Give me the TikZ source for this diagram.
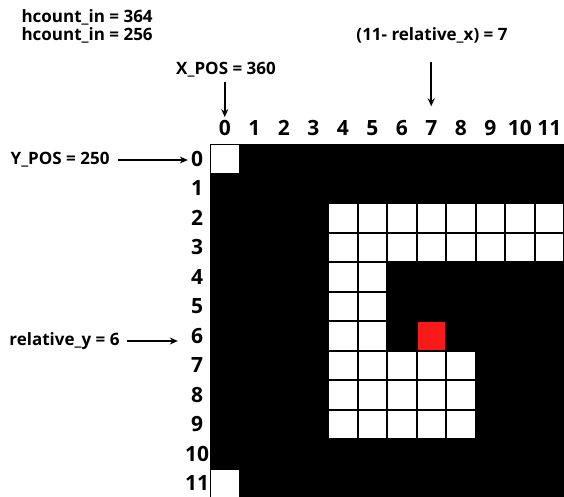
\documentclass[tikz,border=0pt]{standalone}
\usepackage{fontspec}
\setmainfont{Open Sans}
\usetikzlibrary{positioning,arrows.meta}
\definecolor{pixred}{RGB}{250,25,25}

\begin{document}
\begin{tikzpicture}[x=1pt, y=-1pt, font=\bfseries\fontsize{17}{20}\selectfont,
  num/.style={font=\bfseries\fontsize{21}{24}\selectfont, inner sep=0pt},
  pointer/.style={-{Stealth[length=8pt,width=7pt]}, line width=1.6pt}]
  \useasboundingbox (0,0) rectangle (564,497);
  % screen area
  \fill[black] (210,144) rectangle (564,498);
  \foreach \cx/\cy in {0/0,0/11,4/2,5/2,6/2,7/2,8/2,9/2,10/2,11/2,
                       4/3,5/3,6/3,7/3,8/3,9/3,10/3,11/3,4/4,5/4,4/5,5/5,4/6,5/6,
                       4/7,5/7,6/7,7/7,8/7,4/8,5/8,6/8,7/8,8/8,4/9,5/9,6/9,7/9,8/9}
    \fill[white] ({210+\cx*29.5+1},{144+\cy*29.5+1}) rectangle ++(27.5,27.5);
  % current pixel
  \fill[pixred] ({210+7*29.5+1},{144+6*29.5+1}) rectangle ++(27.5,27.5);
  % column and row numbers
  \foreach \i in {0,...,11} {
    \node[num] (c\i) at ({224.75+\i*29.5},128) {\i};
    \node[num] (r\i) at (197,{158.75+\i*29.5}) {\i};
  }
  % labels
  \node[anchor=west] (hcountA) at (18,17) {hcount\_in = 364};
  \node[anchor=west] (hcountB) at (18,35) {hcount\_in = 256};
  \node (xpos) at (226,70) {X\_POS = 360};
  \node (relx) at (432,35) {(11- relative\_x) = 7};
  \node[anchor=east] (ypos) at (113,160) {Y\_POS = 250};
  \node[anchor=east] (rely) at (123,341) {relative\_y = 6};
  % pointers
  \draw[pointer, shorten <=1pt, shorten >=3pt] (c0 |- xpos.south) -- (c0.north);
  \draw[pointer, shorten <=16pt, shorten >=14pt] (c7 |- relx.south) -- (c7.north);
  \draw[pointer, shorten <=5pt, shorten >=3pt] (ypos.east) -- (ypos.east -| r0.west);
  \draw[pointer, shorten <=4pt, shorten >=13pt] (rely.east) -- (rely.east -| r6.west);
\end{tikzpicture}
\end{document}
